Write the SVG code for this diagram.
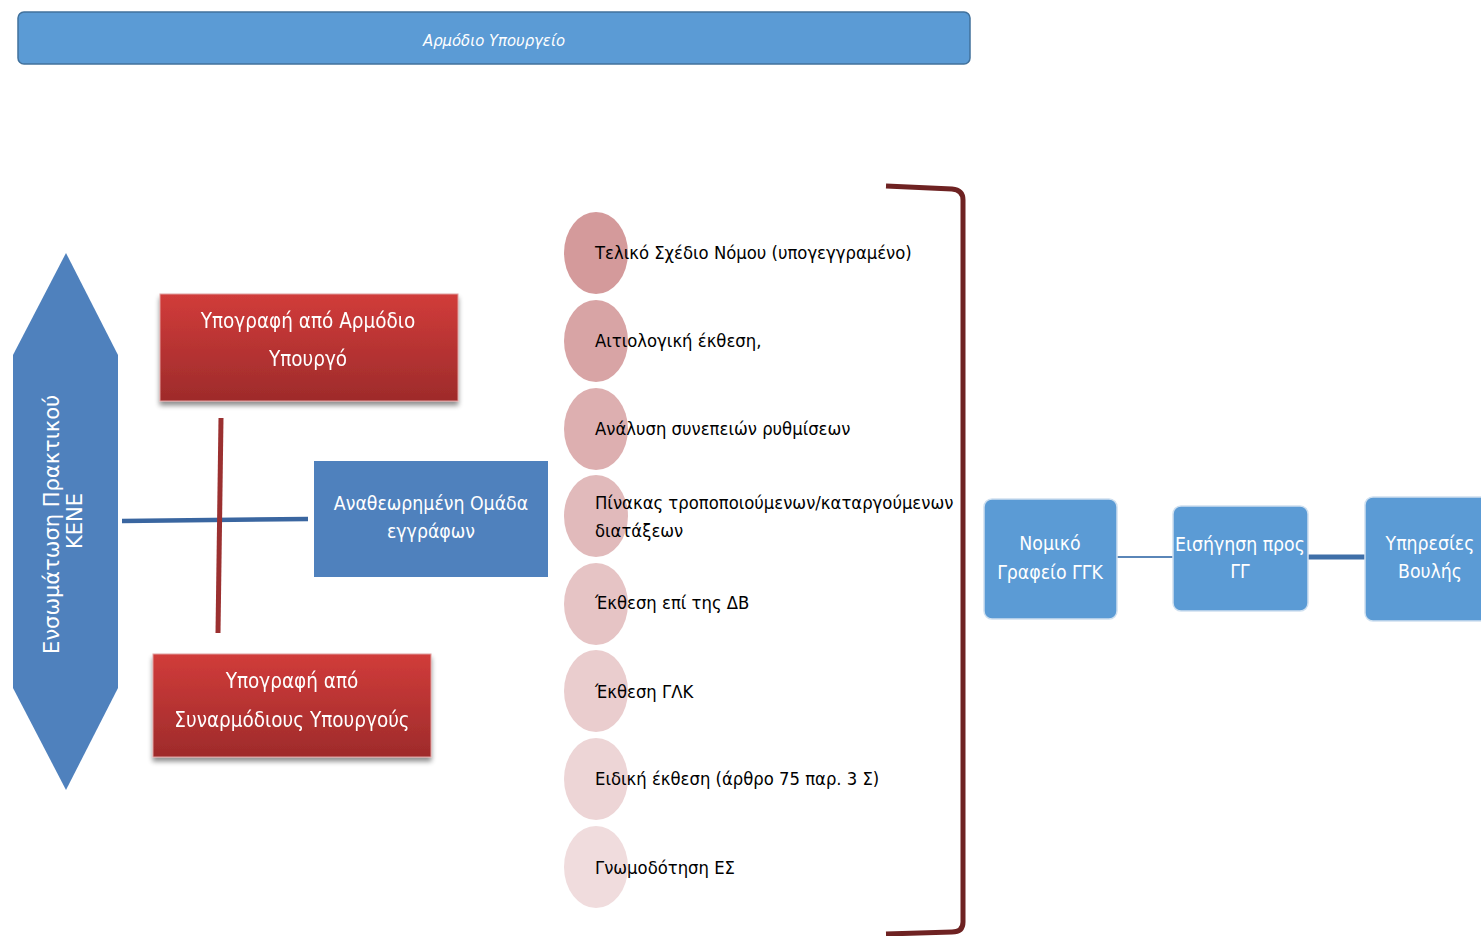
<svg xmlns="http://www.w3.org/2000/svg" width="1481" height="936" viewBox="0 0 1481 936">
  <style>
    .cond { font-family: "Liberation Sans Narrow", "DejaVu Sans Condensed", "Liberation Sans", sans-serif; }
    .wt { fill: #ffffff; text-anchor: middle; font-size: 20.5px; }
    .wb { fill: #ffffff; text-anchor: middle; font-size: 19.3px; }
    .item { fill: #000000; font-size: 18.3px; }
    .rbox { fill: #5b9bd5; stroke: #cfe0f0; stroke-width: 1.5; }
  </style>
  <defs>
    <linearGradient id="redGrad" x1="0" y1="0" x2="0" y2="1">
      <stop offset="0" stop-color="#d13c3a"/>
      <stop offset="1" stop-color="#9e2b2b"/>
    </linearGradient>
    <filter id="shadow" x="-10%" y="-10%" width="120%" height="130%">
      <feGaussianBlur in="SourceAlpha" stdDeviation="2.5"/>
      <feOffset dx="0" dy="4" result="b"/>
      <feComponentTransfer><feFuncA type="linear" slope="0.45"/></feComponentTransfer>
      <feMerge><feMergeNode/><feMergeNode in="SourceGraphic"/></feMerge>
    </filter>
  </defs>

  <rect width="1481" height="936" fill="#ffffff"/>

  <!-- ministry banner -->
  <g id="banner">
    <rect x="18" y="12" width="952" height="52" rx="6" fill="#5b9bd5" stroke="#41719c" stroke-width="1.5"/>
    <text class="cond" x="494" y="46" fill="#ffffff" font-size="16.5" font-style="italic" text-anchor="middle">Αρμόδιο Υπουργείο</text>
  </g>

  <!-- connectors -->
  <g id="connectors" fill="none">
    <line x1="122" y1="521" x2="308" y2="519" stroke="#3a66a0" stroke-width="4.5"/>
    <line x1="221" y1="418" x2="218" y2="633" stroke="#9b3030" stroke-width="5"/>
    <line x1="1117" y1="557" x2="1173" y2="557" stroke="#5a86b8" stroke-width="2"/>
    <line x1="1308" y1="557" x2="1365" y2="557" stroke="#3f6fa8" stroke-width="5"/>
    <path d="M886 186 L952 189 Q963 190 963 200 L963 922 Q963 932 952 932 L886 934" stroke="#6e2222" stroke-width="5"/>
  </g>

  <!-- vertical double arrow -->
  <g id="kene">
    <polygon points="66,253 118,355 118,688 66,790 13,688 13,355" fill="#4f81bd"/>
    <text font-family="'DejaVu Sans', 'Open Sans', sans-serif" font-size="21" fill="#ffffff" text-anchor="middle" transform="translate(60,521) rotate(-90)">
      <tspan x="0" y="-1">Ενσωμάτωση Πρακτικού</tspan>
      <tspan x="0" y="22">ΚΕΝΕ</tspan>
    </text>
  </g>

  <g id="sign-minister" filter="url(#shadow)">
    <rect x="160" y="294" width="298" height="107" fill="url(#redGrad)" stroke="#e0a0a0" stroke-width="1"/>
    <text class="cond wt" x="308" y="328">Υπογραφή από Αρμόδιο</text>
    <text class="cond wt" x="308" y="366">Υπουργό</text>
  </g>

  <g id="sign-co-ministers" filter="url(#shadow)">
    <rect x="153" y="654" width="278" height="103" fill="url(#redGrad)" stroke="#e0a0a0" stroke-width="1"/>
    <text class="cond wt" x="292" y="688">Υπογραφή από</text>
    <text class="cond wt" x="292" y="727">Συναρμόδιους Υπουργούς</text>
  </g>

  <g id="revised-docs">
    <rect x="314" y="461" width="234" height="116" fill="#4f81bd"/>
    <text class="cond wb" x="431" y="510">Αναθεωρημένη Ομάδα</text>
    <text class="cond wb" x="431" y="538">εγγράφων</text>
  </g>

  <!-- document list -->
  <g id="doc-1">
    <ellipse cx="596" cy="253" rx="32" ry="41" fill="#d49a9b"/>
    <text class="cond item" x="595" y="259">Τελικό Σχέδιο Νόμου (υπογεγγραμένο)</text>
  </g>
  <g id="doc-2">
    <ellipse cx="596" cy="341" rx="32" ry="41" fill="#d8a4a5"/>
    <text class="cond item" x="595" y="347">Αιτιολογική έκθεση,</text>
  </g>
  <g id="doc-3">
    <ellipse cx="596" cy="429" rx="32" ry="41" fill="#ddafb0"/>
    <text class="cond item" x="595" y="435">Ανάλυση συνεπειών ρυθμίσεων</text>
  </g>
  <g id="doc-4">
    <ellipse cx="596" cy="516" rx="32" ry="41" fill="#e1babb"/>
    <text class="cond item" x="595" y="509">Πίνακας τροποποιούμενων/καταργούμενων</text>
    <text class="cond item" x="595" y="537">διατάξεων</text>
  </g>
  <g id="doc-5">
    <ellipse cx="596" cy="604" rx="32" ry="41" fill="#e6c4c5"/>
    <text class="cond item" x="595" y="609">Έκθεση επί της ΔΒ</text>
  </g>
  <g id="doc-6">
    <ellipse cx="596" cy="691" rx="32" ry="41" fill="#eacdce"/>
    <text class="cond item" x="595" y="698">Έκθεση ΓΛΚ</text>
  </g>
  <g id="doc-7">
    <ellipse cx="596" cy="779" rx="32" ry="41" fill="#edd5d6"/>
    <text class="cond item" x="595" y="785">Ειδική έκθεση (άρθρο 75 παρ. 3 Σ)</text>
  </g>
  <g id="doc-8">
    <ellipse cx="596" cy="867" rx="32" ry="41" fill="#f0dcdd"/>
    <text class="cond item" x="595" y="874">Γνωμοδότηση ΕΣ</text>
  </g>

  <!-- downstream chain -->
  <g id="legal-office">
    <rect class="rbox" x="984" y="499" width="133" height="120" rx="8"/>
    <text class="cond wb" x="1050" y="550">Νομικό</text>
    <text class="cond wb" x="1050" y="579">Γραφείο ΓΓΚ</text>
  </g>
  <g id="proposal-gg">
    <rect class="rbox" x="1173" y="506" width="135" height="105" rx="8"/>
    <text class="cond wb" x="1240" y="551">Εισήγηση προς</text>
    <text class="cond wb" x="1240" y="578">ΓΓ</text>
  </g>
  <g id="parliament">
    <rect class="rbox" x="1365" y="497" width="130" height="124" rx="8"/>
    <text class="cond wb" x="1430" y="550">Υπηρεσίες</text>
    <text class="cond wb" x="1430" y="578">Βουλής</text>
  </g>
</svg>
